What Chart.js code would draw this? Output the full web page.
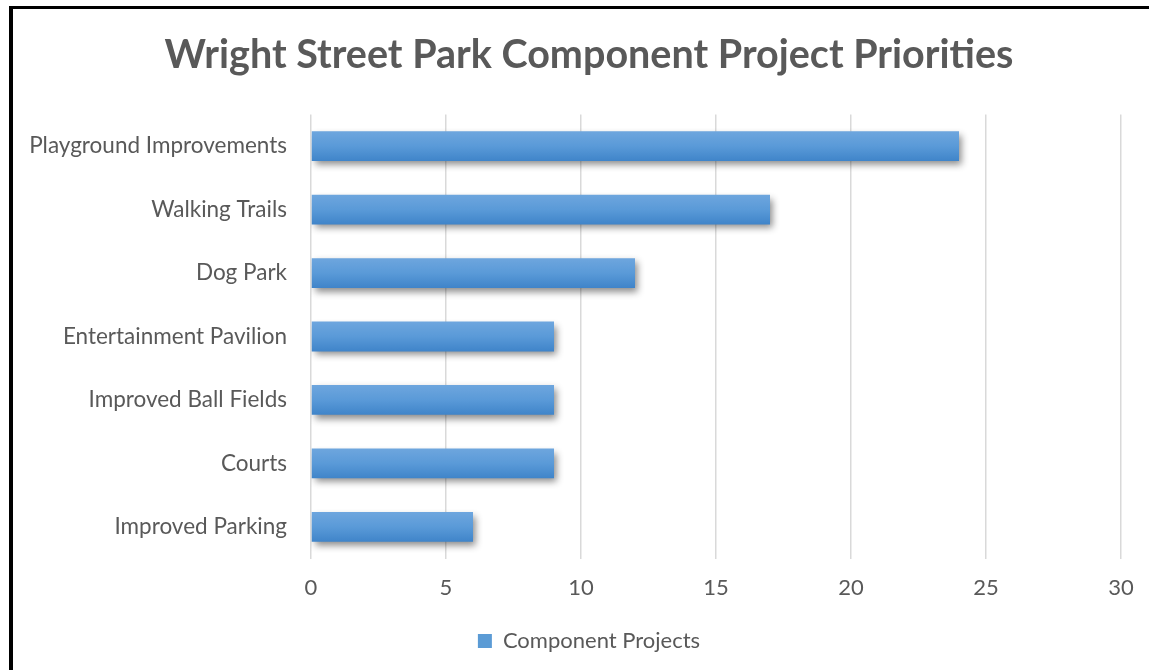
<!DOCTYPE html>
<html>
<head>
<meta charset="utf-8">
<script src="https://cdn.jsdelivr.net/npm/chart.js@4/dist/chart.umd.min.js"></script>
<style>
  html, body { margin: 0; padding: 0; background: #fff; overflow: hidden; }
  #frame {
    position: absolute; left: 9px; top: 6px;
    width: 1160px; height: 680px;
    border-left: 4px solid #000; border-top: 3px solid #000;
  }
  #box { position: absolute; left: 0; top: 0; width: 1152px; height: 661px; }
</style>
</head>
<body>
<div id="frame"><div id="box"><canvas id="chart"></canvas></div></div>
<script>
const categories = [
  'Playground Improvements',
  'Walking Trails',
  'Dog Park',
  'Entertainment Pavilion',
  'Improved Ball Fields',
  'Courts',
  'Improved Parking'
];
const projectCounts = [24, 17, 12, 9, 9, 9, 6];
const seriesName = 'Component Projects';
const xTicks = [0, 5, 10, 15, 20, 25, 30];

const FONT = 'Lato, "Open Sans", sans-serif';
const GREY = '#595959';

// Office-style vertical gradient on every bar
function barFill(ctx) {
  const chart = ctx.chart;
  if (!chart.chartArea || ctx.type !== 'data') return '#5b9bd5';
  const y = chart.scales.y.getPixelForValue(ctx.dataIndex);
  const half = 15;
  const g = chart.ctx.createLinearGradient(0, y - half, 0, y + half);
  g.addColorStop(0, '#6ea6de');
  g.addColorStop(0.5, '#5a9ad8');
  g.addColorStop(1, '#3f84c9');
  return g;
}

const barShadow = {
  id: 'barShadow',
  beforeDatasetsDraw(chart) {
    const c = chart.ctx;
    c.save();
    c.shadowColor = 'rgba(0,0,0,0.45)';
    c.shadowBlur = 7;
    c.shadowOffsetX = 3;
    c.shadowOffsetY = 4;
  },
  afterDatasetsDraw(chart) {
    chart.ctx.restore();
  }
};

new Chart(document.getElementById('chart'), {
  type: 'bar',
  data: {
    labels: categories,
    datasets: [{
      label: seriesName,
      data: projectCounts,
      backgroundColor: barFill,
      borderWidth: 0,
      barPercentage: 0.47,
      categoryPercentage: 1
    }]
  },
  plugins: [barShadow],
  options: {
    responsive: true,
    maintainAspectRatio: false,
    animation: false,
    indexAxis: 'y',
    layout: { padding: { left: 0, right: 0, top: 0, bottom: 8 } },
    scales: {
      x: {
        min: 0,
        max: 30,
        afterBuildTicks: axis => { axis.ticks = xTicks.map(v => ({ value: v })); },
        grid: { color: '#d9d9d9', lineWidth: 1.5, drawTicks: false },
        border: { display: false },
        ticks: { color: GREY, padding: 16, font: { family: FONT, size: 22 } }
      },
      y: {
        afterFit: axis => { axis.width = 298; },
        grid: { display: false },
        border: { display: false },
        ticks: { color: GREY, padding: 16, font: { family: FONT, size: 22.5 } }
      },
      // empty spacer on the right so the plot ends where the original does
      spacer: {
        type: 'linear',
        axis: 'y',
        position: 'right',
        afterFit: axis => { axis.width = 44; },
        grid: { display: false },
        border: { display: false },
        ticks: { display: false }
      }
    },
    plugins: {
      title: {
        display: true,
        text: 'Wright Street Park Component Project Priorities',
        color: GREY,
        font: { family: FONT, size: 39.5, weight: 'bold' },
        padding: { top: 23, bottom: 35 }
      },
      legend: {
        position: 'bottom',
        labels: {
          color: GREY,
          font: { family: FONT, size: 22 },
          boxWidth: 14,
          boxHeight: 14,
          padding: 13,
          generateLabels: () => [{
            text: seriesName,
            fillStyle: '#5b9bd5',
            strokeStyle: '#5b9bd5',
            fontColor: GREY,
            lineWidth: 0,
            datasetIndex: 0
          }]
        }
      },
      tooltip: { enabled: false }
    }
  }
});
</script>
</body>
</html>
